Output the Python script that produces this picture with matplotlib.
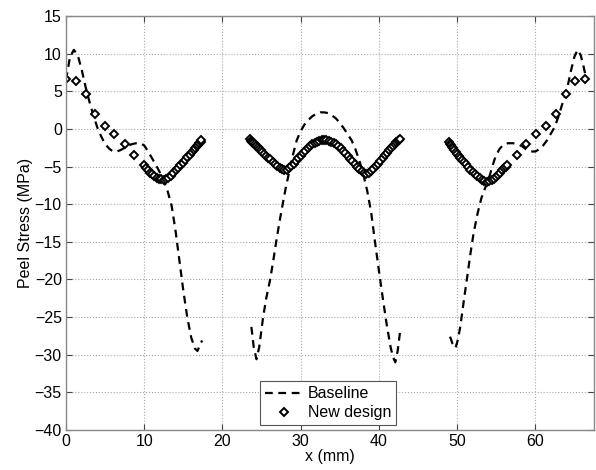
import matplotlib
matplotlib.use("Agg")
import matplotlib.pyplot as plt

# ---- Baseline (dashed), three segments ----
base_x1 = [0.0, 0.5, 1.0, 1.5, 2.0, 2.5, 3.0, 3.5, 4.0, 4.5, 5.0, 5.5, 6.0, 6.5, 7.0, 7.5,
           8.0, 8.5, 9.0, 9.5, 10.0, 10.5, 11.0, 11.5, 12.0, 12.5, 13.0, 13.5, 14.0, 14.5,
           15.0, 15.5, 16.0, 16.5, 16.8, 17.1, 17.4]
base_y1 = [6.5, 9.5, 10.5, 9.8, 7.9, 5.6, 3.6, 1.8, 0.2, -1.0, -2.0, -2.6, -3.0, -3.0, -2.8, -2.5,
           -2.2, -2.0, -1.9, -1.9, -2.2, -3.0, -3.9, -4.8, -5.8, -6.9, -8.3, -10.2, -13.5, -17.5,
           -21.5, -25.0, -27.7, -29.2, -29.5, -28.8, -28.1]

base_x2 = [23.7, 24.0, 24.35, 24.7, 25.2, 25.6, 26.1, 26.5, 26.9, 27.3, 27.7, 28.1, 28.6, 29.0,
           29.5, 30.0, 30.5, 31.0, 31.5, 32.0, 32.5, 33.0, 33.5, 34.0, 34.5, 35.0, 35.5, 36.0,
           36.5, 37.0, 37.5, 38.0, 38.5, 39.0, 39.5, 40.0, 40.5, 41.0, 41.5, 41.8, 42.1, 42.4, 42.7]
base_y2 = [-26.3, -29.0, -30.6, -29.0, -25.0, -22.5, -20.0, -17.5, -14.8, -12.3, -10.0, -7.8, -5.4, -3.5,
           -1.5, -0.3, 0.6, 1.2, 1.7, 2.0, 2.2, 2.2, 2.1, 1.8, 1.4, 0.8, 0.1, -0.7,
           -1.5, -2.7, -4.2, -6.0, -8.2, -11.0, -15.0, -18.8, -22.5, -26.0, -29.0, -30.3, -31.0, -29.5, -27.0]

base_x3 = [49.1, 49.4, 49.8, 50.1, 50.4, 50.9, 51.3, 51.7, 52.1, 52.6, 53.1, 53.6, 54.0, 54.5,
           54.9, 55.4, 55.9, 56.5, 57.1, 57.7, 58.3, 58.8, 59.4, 60.0, 60.5, 61.0, 61.5, 62.0,
           62.5, 63.0, 63.5, 64.0, 64.5, 65.0, 65.4, 65.8, 66.1, 66.4]
base_y3 = [-27.6, -28.5, -29.1, -28.0, -26.3, -22.5, -19.6, -16.6, -13.9, -11.3, -9.2, -7.8, -6.8, -5.0,
           -3.7, -2.7, -2.1, -1.9, -1.9, -2.0, -2.3, -2.7, -3.0, -3.0, -2.7, -2.2, -1.5, -0.6,
           0.3, 1.8, 3.5, 5.0, 7.5, 9.6, 10.5, 9.8, 8.6, 7.2]

# ---- New design (diamond markers), three segments ----
new_x1 = [0.0, 1.3, 2.5, 3.7, 5.0, 6.2, 7.5, 8.7,
          10.0, 10.25, 10.5, 10.75, 11.0, 11.3, 11.6, 11.9, 12.2, 12.5, 12.8, 13.1, 13.4, 13.7,
          14.0, 14.3, 14.6, 14.9, 15.2, 15.5, 15.8, 16.05, 16.3, 16.5, 16.7, 16.9, 17.05, 17.2, 17.3]
new_y1 = [6.6, 6.4, 4.6, 2.0, 0.4, -0.7, -2.0, -3.5,
          -4.8, -5.2, -5.5, -5.8, -6.0, -6.3, -6.5, -6.6, -6.7, -6.8, -6.7, -6.5, -6.2, -5.9,
          -5.5, -5.2, -4.8, -4.5, -4.1, -3.7, -3.4, -3.1, -2.8, -2.5, -2.3, -2.1, -1.9, -1.7, -1.5]

new_x2 = [23.5, 23.65, 23.8, 23.95, 24.1, 24.3, 24.5, 24.7, 24.9, 25.1, 25.35, 25.6, 25.85, 26.1,
          26.4, 26.7, 27.0, 27.3, 27.6, 27.9, 28.2, 28.5, 28.8, 29.1, 29.4, 29.7, 30.0, 30.3,
          30.6, 30.9, 31.2, 31.5, 31.8, 32.1, 32.4, 32.7, 33.0, 33.3, 33.6, 33.9, 34.2, 34.5,
          34.8, 35.1, 35.4, 35.7, 36.0, 36.3, 36.6, 36.9, 37.2, 37.5, 37.8, 38.1, 38.4, 38.7,
          39.0, 39.3, 39.6, 39.9, 40.2, 40.5, 40.8, 41.1, 41.35, 41.6, 41.85, 42.05, 42.25, 42.4,
          42.55, 42.7]
new_y2 = [-1.4, -1.6, -1.75, -1.9, -2.05, -2.25, -2.45, -2.65, -2.85, -3.05, -3.3, -3.55, -3.8, -4.05,
          -4.35, -4.65, -4.95, -5.2, -5.35, -5.45, -5.4, -5.2, -4.9, -4.6, -4.25, -3.9, -3.55, -3.2,
          -2.9, -2.6, -2.3, -2.05, -1.85, -1.7, -1.55, -1.5, -1.45, -1.5, -1.55, -1.7, -1.85, -2.05,
          -2.3, -2.6, -2.9, -3.25, -3.6, -3.95, -4.3, -4.65, -5.0, -5.3, -5.6, -5.85, -5.95, -5.85,
          -5.6, -5.3, -4.95, -4.6, -4.25, -3.9, -3.5, -3.15, -2.85, -2.55, -2.25, -2.0, -1.8, -1.65,
          -1.5, -1.35]

new_x3 = [49.0, 49.1, 49.2, 49.35, 49.5, 49.65, 49.8, 50.0, 50.2, 50.4, 50.6, 50.85, 51.1, 51.4,
          51.7, 52.0, 52.3, 52.6, 52.9, 53.2, 53.5, 53.8, 54.1, 54.4, 54.7, 55.0, 55.25, 55.5,
          55.75, 56.0, 56.2, 56.4,
          57.6, 58.8, 60.1, 61.4, 62.7, 63.9, 65.1, 66.4]
new_y3 = [-1.8, -2.0, -2.2, -2.4, -2.6, -2.85, -3.1, -3.35, -3.6, -3.85, -4.1, -4.4, -4.7, -5.05,
          -5.4, -5.7, -6.0, -6.3, -6.55, -6.75, -6.9, -7.0, -6.95, -6.8, -6.6, -6.35, -6.1, -5.8,
          -5.5, -5.2, -5.0, -4.8,
          -3.5, -2.0, -0.7, 0.4, 2.0, 4.6, 6.4, 6.6]

x_ticks = [0, 10, 20, 30, 40, 50, 60]
y_ticks = [-40, -35, -30, -25, -20, -15, -10, -5, 0, 5, 10, 15]

plt.rcParams['font.family'] = ['Liberation Sans', 'DejaVu Sans']

fig = plt.figure(figsize=(5.96, 4.70), dpi=100)
ax = fig.add_axes([66 / 596, 1 - 430 / 470, (594 - 66) / 596, (430 - 16) / 470])

dash = dict(color='black', linestyle=(0, (3.5, 2.5)), linewidth=1.6)
mk = dict(linestyle='none', marker='D', markersize=4.4, markerfacecolor='white',
          markeredgecolor='black', markeredgewidth=1.4)

ax.plot(base_x1, base_y1, label='Baseline', **dash)
ax.plot(base_x2, base_y2, **dash)
ax.plot(base_x3, base_y3, **dash)
ax.plot(new_x1, new_y1, label='New design', **mk)
ax.plot(new_x2, new_y2, **mk)
ax.plot(new_x3, new_y3, **mk)

ax.set_xlim(0, 67.5)
ax.set_ylim(-40, 15)
ax.set_xticks(x_ticks)
ax.set_yticks(y_ticks)
ax.grid(True, linestyle=':', color='#aaaaaa', linewidth=0.8)
ax.tick_params(direction='in', top=True, right=True, labelsize=11.5, length=4,
               color='#444444', pad=3)
for s in ax.spines.values():
    s.set_color('#888888')
    s.set_linewidth(1.0)

ax.set_xlabel('x (mm)', fontsize=11.5, labelpad=0)
ax.set_ylabel('Peel Stress (MPa)', fontsize=11.5, labelpad=1)

leg = ax.legend(loc='lower left', bbox_to_anchor=(194 / 528, 5 / 414), fontsize=11.5,
                frameon=True, fancybox=False, edgecolor='#555555', framealpha=1,
                handlelength=2.4, handletextpad=0.3, borderpad=0.3, labelspacing=0.25,
                borderaxespad=0)
leg.get_frame().set_linewidth(0.8)

fig.savefig('out.png', dpi=100)
